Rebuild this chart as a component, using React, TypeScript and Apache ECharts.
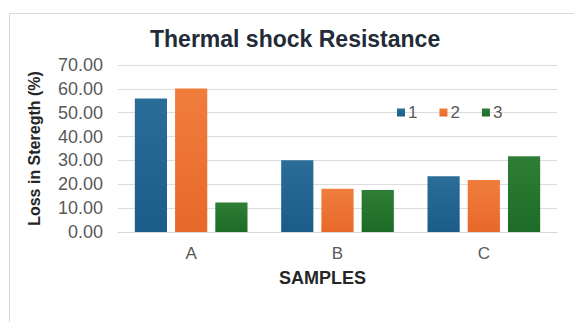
import React, { useEffect, useRef } from "react";
import * as echarts from "echarts";

const categories = ["A", "B", "C"];
const seriesNames = ["1", "2", "3"];
const series1 = [56.0, 30.1, 23.4];
const series2 = [60.2, 18.1, 21.8];
const series3 = [12.4, 17.6, 31.8];
const yTicks = [0, 10, 20, 30, 40, 50, 60, 70];

const grad = (top: string, bottom: string) =>
  new echarts.graphic.LinearGradient(0, 0, 0, 1, [
    { offset: 0, color: top },
    { offset: 1, color: bottom },
  ]);

export default function App() {
  const ref = useRef<HTMLDivElement>(null);
  useEffect(() => {
    if (!ref.current) return;
    const chart = echarts.init(ref.current, undefined, { renderer: "svg" });
    const font = "Liberation Sans, Arial, sans-serif";
    const colors = [
      grad("#2b6d99", "#1b5c88"),
      grad("#f07d3c", "#e8692a"),
      grad("#2e7e37", "#1c6c27"),
    ];
    const legendColors = ["#1f6290", "#ec7332", "#25742f"];
    const data = [series1, series2, series3];
    chart.setOption({
      animation: false,
      backgroundColor: "#ffffff",
      textStyle: { fontFamily: font },
      color: legendColors,
      title: {
        text: "Thermal shock Resistance",
        left: 145,
        top: 22,
        textStyle: { fontSize: 23, fontWeight: "bold", color: "#222b37", fontFamily: font },
      },
      legend: {
        data: seriesNames,
        left: 392,
        top: 99,
        itemWidth: 8,
        itemHeight: 8,
        itemGap: 22,
        icon: "rect",
        textStyle: { fontSize: 17, color: "#595959", fontFamily: font, padding: [0, 0, 0, -2] },
      },
      graphic: [
        {
          type: "rect",
          shape: { x: 9.5, y: 13.5, width: 620, height: 400 },
          style: { fill: "none", stroke: "#d9d9d9", lineWidth: 1 },
          silent: true,
        },
      ],
      grid: { left: 118, right: 17, top: 65, bottom: 90 },
      xAxis: {
        type: "category",
        data: categories,
        name: "SAMPLES",
        nameLocation: "middle",
        nameGap: 37,
        nameTextStyle: { fontSize: 18, fontWeight: "bold", color: "#262626", padding: [0, 30, 0, 0] },
        axisLine: { lineStyle: { color: "#d9d9d9" } },
        axisTick: { show: false },
        axisLabel: { fontSize: 17, color: "#595959", margin: 13 },
      },
      yAxis: {
        type: "value",
        min: yTicks[0],
        max: yTicks[yTicks.length - 1],
        interval: 10,
        name: "Loss in Steregth (%)",
        nameLocation: "middle",
        nameRotate: 90,
        nameGap: 76,
        nameTextStyle: { fontSize: 16, fontWeight: "bold", color: "#262626" },
        axisLine: { show: false },
        axisTick: { show: false },
        splitLine: { lineStyle: { color: "#dcdcdc" } },
        axisLabel: {
          fontSize: 18,
          color: "#595959",
          margin: 15,
          formatter: (v: number) => v.toFixed(2),
        },
      },
      series: data.map((d, i) => ({
        name: seriesNames[i],
        type: "bar",
        data: d,
        barGap: "25%",
        barCategoryGap: "23%",
        itemStyle: { color: colors[i] },
      })),
    });
    return () => chart.dispose();
  }, []);
  return (
    <div
      ref={ref}
      style={{ position: "fixed", left: 0, top: 0, width: 574, height: 322 }}
    />
  );
}
